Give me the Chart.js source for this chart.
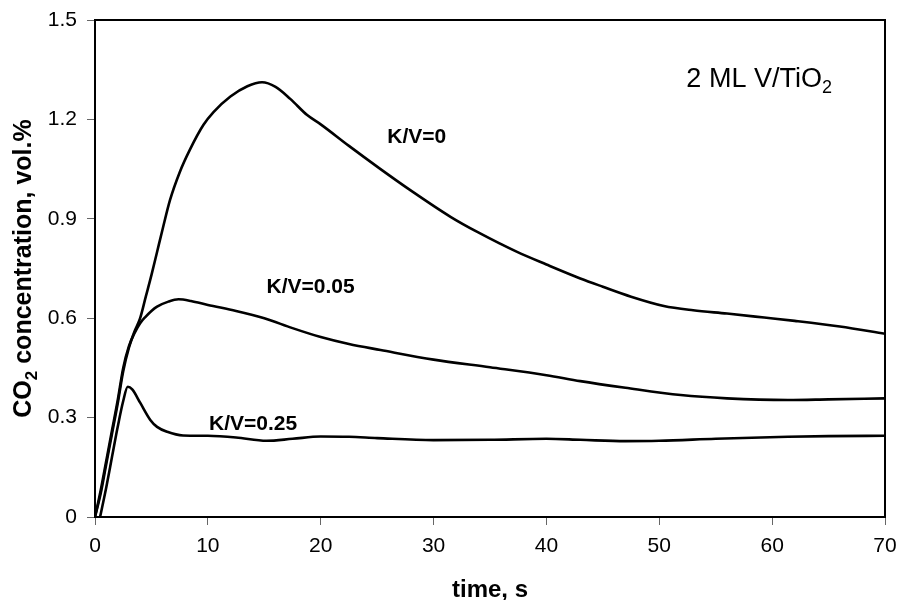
<!DOCTYPE html>
<html>
<head>
<meta charset="utf-8">
<script src="https://cdn.jsdelivr.net/npm/chart.js@4.4.1/dist/chart.umd.min.js"></script>
<style>
  html, body { margin: 0; padding: 0; background: #fff; }
  #wrap { width: 898px; height: 600px; }
</style>
</head>
<body>
<div id="wrap"><canvas id="c" width="898" height="600"></canvas></div>
<script>
// ---- data ----
const kv0Time = [0, 0.5, 1, 1.5, 2, 2.5, 3, 3.5, 4, 4.5, 5, 5.5, 6, 6.65, 7.5, 8.4, 9.6, 10.5, 12, 13.5, 14.8, 16, 17.3, 18.8, 20, 22.5, 25.3, 28, 31.5, 34, 37.4, 40, 43, 45, 47.5, 50.4, 53, 56, 59.3, 62, 66, 70];
const kv0Conc = [0, 0.07, 0.16, 0.25, 0.34, 0.44, 0.51, 0.56, 0.6, 0.665, 0.73, 0.8, 0.87, 0.957, 1.04, 1.108, 1.183, 1.222, 1.269, 1.3, 1.312, 1.298, 1.262, 1.213, 1.185, 1.12, 1.05, 0.985, 0.906, 0.858, 0.8, 0.762, 0.72, 0.695, 0.665, 0.637, 0.624, 0.614, 0.602, 0.592, 0.575, 0.553];

const kv005Time = [0, 0.5, 1, 1.5, 2, 2.5, 3, 3.5, 4, 4.5, 5, 5.5, 6.5, 7.4, 8.5, 10, 12.5, 15, 17.5, 20, 22.5, 25.3, 30, 35, 40, 43, 47, 51.9, 56, 61.4, 65, 70];
const kv005Conc = [0, 0.08, 0.17, 0.26, 0.35, 0.45, 0.515, 0.555, 0.585, 0.605, 0.622, 0.635, 0.65, 0.657, 0.652, 0.64, 0.622, 0.6, 0.57, 0.543, 0.522, 0.504, 0.475, 0.452, 0.428, 0.41, 0.39, 0.368, 0.358, 0.353, 0.355, 0.358];

const kv025Time = [0.45, 1, 1.5, 2, 2.5, 2.9, 3.3, 4, 4.9, 5.5, 6.4, 7.8, 10, 12.5, 15.2, 17.5, 20, 22.5, 25, 30, 35, 40, 43, 47, 50, 55, 61.4, 65, 70];
const kv025Conc = [0, 0.09, 0.18, 0.27, 0.35, 0.393, 0.385, 0.345, 0.293, 0.272, 0.257, 0.246, 0.245, 0.24, 0.23, 0.236, 0.243, 0.242, 0.238, 0.232, 0.233, 0.236, 0.233, 0.229, 0.23, 0.236, 0.242, 0.244, 0.245];

const seriesNames = ['K/V=0', 'K/V=0.05', 'K/V=0.25'];
const xTicks = [0, 10, 20, 30, 40, 50, 60, 70];
const xTickLabels = ['0', '10', '20', '30', '40', '50', '60', '70'];
const yTicks = [0, 0.3, 0.6, 0.9, 1.2, 1.5];
const yTickLabels = ['0', '0.3', '0.6', '0.9', '1.2', '1.5'];

// ---- build ----
const FONT = '"Liberation Sans", Arial, Helvetica, sans-serif';
function pts(xs, ys) { return xs.map((x, i) => ({ x: x, y: ys[i] })); }

const lineStyle = {
  borderColor: '#000', borderWidth: 2.6, pointRadius: 0, fill: false,
  cubicInterpolationMode: 'monotone'
};

// label anchors in data coordinates [time, conc] (left, baseline)
const seriesLabelAt = [[25.9, 1.128], [15.2, 0.675], [10.1, 0.263]];
const sampleLabelAt = [52.4, 1.298];

const decor = {
  id: 'decor',
  afterDraw(chart) {
    const ctx = chart.ctx, a = chart.chartArea;
    const xs = chart.scales.x, ys = chart.scales.y;
    ctx.save();
    ctx.strokeStyle = '#000';
    ctx.lineWidth = 2;
    ctx.strokeRect(a.left, a.top, a.right - a.left, a.bottom - a.top);

    ctx.fillStyle = '#000';
    ctx.textBaseline = 'alphabetic';
    ctx.textAlign = 'left';

    ctx.font = 'bold 21px ' + FONT;
    seriesNames.forEach((n, i) => {
      const p = seriesLabelAt[i];
      ctx.fillText(n, xs.getPixelForValue(p[0]), ys.getPixelForValue(p[1]));
    });

    let sx = xs.getPixelForValue(sampleLabelAt[0]);
    const sy = ys.getPixelForValue(sampleLabelAt[1]);
    ctx.font = '27px ' + FONT;
    ctx.fillText('2 ML V/TiO', sx, sy);
    sx += ctx.measureText('2 ML V/TiO').width;
    ctx.font = '18px ' + FONT;
    ctx.fillText('2', sx, sy + 6);

    ctx.font = 'bold 24px ' + FONT;
    ctx.textAlign = 'center';
    ctx.fillText('time, s', (a.left + a.right) / 2, 597);

    const p1 = 'CO', p2 = '2', p3 = ' concentration, vol.%';
    ctx.font = 'bold 25px ' + FONT;
    const w1 = ctx.measureText(p1).width, w3 = ctx.measureText(p3).width;
    ctx.font = 'bold 17px ' + FONT;
    const w2 = ctx.measureText(p2).width;
    const total = w1 + w2 + w3;
    ctx.translate(31, (a.top + a.bottom) / 2);
    ctx.rotate(-Math.PI / 2);
    ctx.textAlign = 'left';
    let tx = -total / 2;
    ctx.font = 'bold 25px ' + FONT;
    ctx.fillText(p1, tx, 0); tx += w1;
    ctx.font = 'bold 17px ' + FONT;
    ctx.fillText(p2, tx, 6); tx += w2;
    ctx.font = 'bold 25px ' + FONT;
    ctx.fillText(p3, tx, 0);
    ctx.restore();
  }
};

new Chart(document.getElementById('c'), {
  type: 'line',
  data: {
    datasets: [
      Object.assign({ label: seriesNames[0], data: pts(kv0Time, kv0Conc) }, lineStyle),
      Object.assign({ label: seriesNames[1], data: pts(kv005Time, kv005Conc) }, lineStyle),
      Object.assign({ label: seriesNames[2], data: pts(kv025Time, kv025Conc) }, lineStyle)
    ]
  },
  options: {
    responsive: false,
    animation: false,
    events: [],
    layout: { padding: { top: 20, right: 13, left: 0, bottom: 0 } },
    plugins: { legend: { display: false }, tooltip: { enabled: false }, title: { display: false } },
    scales: {
      x: {
        type: 'linear', min: 0, max: 70,
        afterBuildTicks: s => { s.ticks = xTicks.map(v => ({ value: v })); },
        afterFit: s => { s.height = 83; s.paddingLeft = 0; s.paddingRight = 0; },
        ticks: {
          color: '#000', font: { family: FONT, size: 21 }, padding: 9, maxRotation: 0,
          callback: (v, i) => xTickLabels[i]
        },
        grid: { drawOnChartArea: false, drawTicks: true, tickLength: 8, tickWidth: 1, tickColor: '#666' },
        border: { display: true, color: '#000', width: 2 }
      },
      y: {
        type: 'linear', min: 0, max: 1.5,
        afterBuildTicks: s => { s.ticks = yTicks.map(v => ({ value: v })); },
        afterFit: s => { s.width = 95; s.paddingTop = 0; s.paddingBottom = 0; },
        ticks: {
          color: '#000', font: { family: FONT, size: 21 }, padding: 10,
          callback: (v, i) => yTickLabels[i]
        },
        grid: { drawOnChartArea: false, drawTicks: true, tickLength: 8, tickWidth: 1, tickColor: '#666' },
        border: { display: true, color: '#000', width: 2 }
      }
    }
  },
  plugins: [decor]
});
</script>
</body>
</html>
